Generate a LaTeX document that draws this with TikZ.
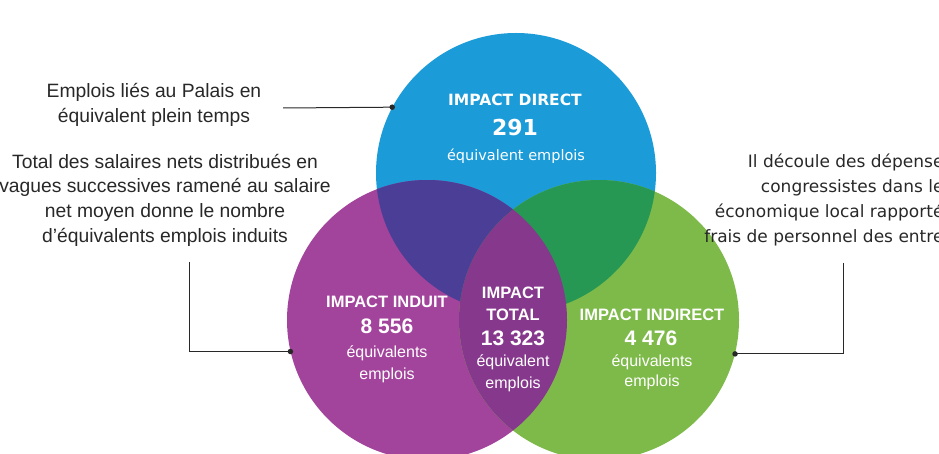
\documentclass[tikz,border=0pt]{standalone}
\usepackage{fontspec}
\setmainfont{Liberation Sans}
\newfontfamily\verdfont{DejaVu Sans}
\usetikzlibrary{positioning}

\definecolor{dirblue}{RGB}{27,155,216}
\definecolor{indpurple}{RGB}{163,68,156}
\definecolor{indgreen}{RGB}{126,186,74}
\definecolor{bluepurple}{RGB}{74,62,150}
\definecolor{bluegreen}{RGB}{38,152,84}
\definecolor{totalpurple}{RGB}{134,56,140}
\definecolor{inkgray}{RGB}{40,40,40}

\tikzset{
  bubble/.style={circle, minimum size=280pt, inner sep=0pt},
  note/.style={align=center, text=inkgray, font=\fontsize{19.3}{24.7}\selectfont},
  vnote/.style={align=right, text=inkgray, font=\verdfont\fontsize{17}{24.7}\selectfont},
  ttl/.style={text=white, font=\bfseries\fontsize{16.5}{20}\selectfont},
  num/.style={text=white, font=\bfseries\fontsize{21}{24}\selectfont},
  unit/.style={text=white, font=\fontsize{16}{20}\selectfont},
  dttl/.style={text=white, font=\verdfont\bfseries\fontsize{15.5}{19}\selectfont},
  dnum/.style={text=white, font=\verdfont\bfseries\fontsize{22}{26}\selectfont},
  dunit/.style={text=white, font=\verdfont\fontsize{14.5}{18}\selectfont},
  lead/.style={draw=inkgray, line width=1pt},
  dot/.style={circle, fill=inkgray, inner sep=0pt, minimum size=5.5pt}
}

\begin{document}
\begin{tikzpicture}[x=1pt, y=-1pt]
\useasboundingbox (0,0) rectangle (939,454);
\clip (0,0) rectangle (939,454);

% Circles
\node[bubble, fill=dirblue]   (direct)   at (516,173) {};
\node[bubble, fill=indpurple] (induit)   at (427,320) {};
\node[bubble, fill=indgreen]  (indirect) at (599,320) {};

% Overlaps
\begin{scope}
  \clip (direct.center) circle (140pt);
  \fill[bluepurple] (induit.center) circle (140pt);
  \fill[bluegreen] (indirect.center) circle (140pt);
\end{scope}
\begin{scope}
  \clip (induit.center) circle (140pt);
  \fill[totalpurple] (indirect.center) circle (140pt);
\end{scope}

% Labels in the circles
\node[dttl]  (dirtitle) at (515,100) {IMPACT DIRECT};
\node[dnum]  (dirnum)   at (515,127) {291};
\node[dunit] (dirunit)  at (516,156) {équivalent emplois};

\node[ttl]  (indtitle) at (387,302) {IMPACT INDUIT};
\node[num]  (indnum)   at (387,326) {8 556};
\node[unit] (indunit)  at (387,353) {équivalents};
\node[unit] (indunitb) at (387,375) {emplois};

\node[ttl]  (tottitle)  at (513,293) {IMPACT};
\node[ttl]  (tottitleb) at (513,315) {TOTAL};
\node[num]  (totnum)    at (513,338) {13 323};
\node[unit] (totunit)   at (513,362) {équivalent};
\node[unit] (totunitb)  at (513,384) {emplois};

\node[ttl]  (idrtitle) at (652,315) {IMPACT INDIRECT};
\node[num]  (idrnum)   at (651,338) {4 476};
\node[unit] (idrunit)  at (652,362) {équivalents};
\node[unit] (idrunitb) at (652,382) {emplois};

% Notes
\node[note] (palaisnote) at (154,105)
  {Emplois liés au Palais en\\équivalent plein temps};
\node[note] (induitnote) at (165,200)
  {Total des salaires nets distribués en\\vagues successives ramené au salaire\\net moyen donne le nombre\\d’équivalents emplois induits};
\node[vnote, anchor=east] (indirectnote) at (947,200)
  {Il découle des dépense\\congressistes dans le\\économique local rapporté\\frais de personnel des entre};

% Leaders
\coordinate (palaisend)   at (283,108);
\coordinate (induitend)   at (189,262);
\coordinate (indirectend) at (843,263);
\draw[lead] (palaisend) -- (direct.152);
\draw[lead] (induitend) |- (induit.193);
\draw[lead] (indirectend) |- (indirect.346);
\node[dot] at (direct.152) {};
\node[dot] at (induit.193) {};
\node[dot] at (indirect.346) {};

\end{tikzpicture}
\end{document}
